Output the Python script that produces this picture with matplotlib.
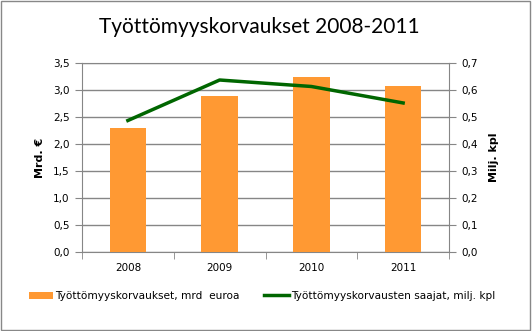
import numpy as np
import matplotlib.pyplot as plt
from matplotlib.ticker import FuncFormatter, MultipleLocator

years = ['2008', '2009', '2010', '2011']
korvaukset = [2.30, 2.88, 3.25, 3.08]   # mrd euroa
saajat = [0.487, 0.637, 0.613, 0.552]   # milj. kpl

orange = '#FF9933'
green = '#006600'
grid = '#868686'

fig = plt.figure(figsize=(5.32, 3.31), dpi=100)
ax = fig.add_axes([82/532, 1 - 252/331, 367/532, 189/331])
ax2 = ax.twinx()

x = np.arange(len(years))
b = ax.bar(x, korvaukset, width=0.4, color=orange, zorder=3,
           label='Työttömyyskorvaukset, mrd  euroa')
l, = ax2.plot(x, saajat, color=green, lw=2.5, zorder=4,
              label='Työttömyyskorvausten saajat, milj. kpl')

ax.set_xlim(-0.5, 3.5)
ax.set_ylim(0, 3.5)
ax2.set_ylim(0, 0.7)
ax.yaxis.set_major_locator(MultipleLocator(0.5))
ax2.yaxis.set_major_locator(MultipleLocator(0.1))
fmt = FuncFormatter(lambda v, p: f'{v:.1f}'.replace('.', ','))
ax.yaxis.set_major_formatter(fmt)
ax2.yaxis.set_major_formatter(fmt)

ax.set_xticks(x)
ax.set_xticklabels(years)
ax.set_xticks(np.arange(-0.5, 4, 1), minor=True)
ax.tick_params(axis='x', which='major', length=0, pad=8, labelsize=7.5)
ax.tick_params(axis='x', which='minor', length=5, color=grid)
ax.tick_params(axis='y', length=5, color=grid, labelsize=7.5, pad=4)
ax2.tick_params(axis='y', length=5, color=grid, labelsize=7.5, pad=4)

ax.grid(axis='y', color=grid, lw=1, zorder=0)
for a in (ax, ax2):
    for s in a.spines.values():
        s.set_visible(False)
ax.spines['left'].set_visible(True)
ax.spines['left'].set_color(grid)
ax.spines['bottom'].set_visible(True)
ax.spines['bottom'].set_color(grid)
ax2.spines['right'].set_visible(True)
ax2.spines['right'].set_color(grid)
ax.spines['top'].set_visible(True)
ax.spines['top'].set_color(grid)

ax.set_ylabel('Mrd. €', fontsize=8, fontweight='bold', labelpad=6)
ax2.set_ylabel('Milj. kpl', fontsize=8, fontweight='bold', labelpad=8)

fig.text(259.5/532, 1 - 27/331, 'Työttömyyskorvaukset 2008-2011', ha='center',
         va='center', fontsize=15, family='Lato')

fig.legend([b, l], [b.get_label(), l.get_label()], loc='center',
           bbox_to_anchor=(262/532, 1 - 296/331), ncol=2, frameon=False,
           fontsize=7.6, handlelength=2.3, handletextpad=0.2, columnspacing=2.3)

fig.patches.append(plt.Rectangle((0.002, 0.003), 0.995, 0.994, transform=fig.transFigure,
                                 fill=False, edgecolor='#888888', lw=1))

fig.savefig('out.png', dpi=100)
